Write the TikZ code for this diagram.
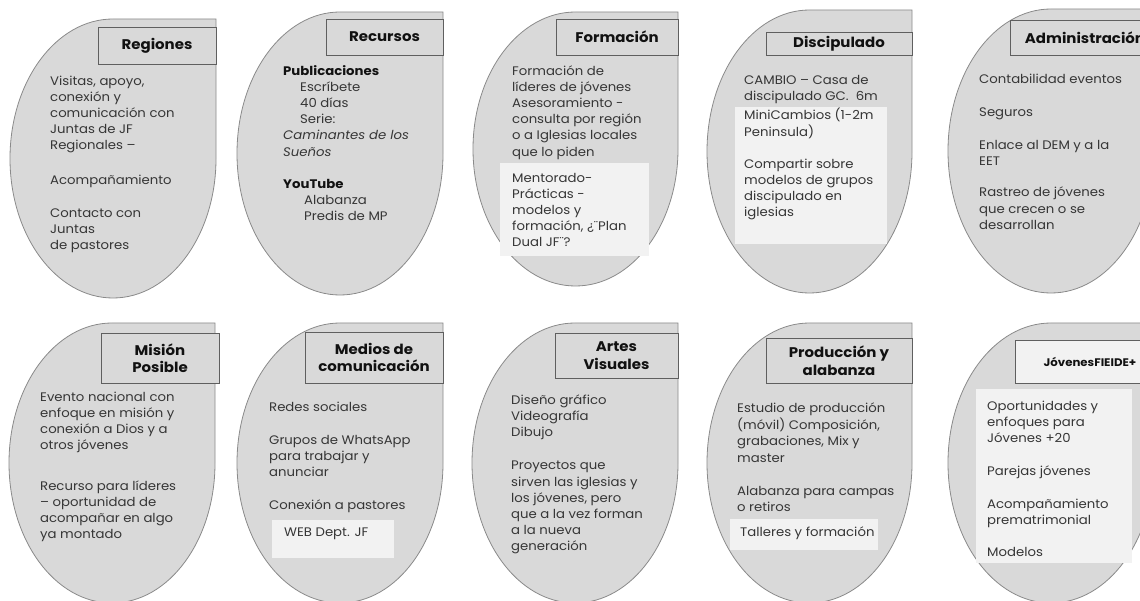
\documentclass[tikz,border=0pt]{standalone}
\usepackage{fontspec}
\setmainfont{Poppins}[FakeStretch=1.07]
\definecolor{blobfill}{HTML}{D9D9D9}
\definecolor{blobline}{HTML}{8A8A8A}
\definecolor{hdrline}{HTML}{5F5F5F}
\definecolor{boxfill}{HTML}{F2F2F2}
\definecolor{txtc}{HTML}{363636}
\definecolor{ttlc}{HTML}{111111}
\tikzset{
  blob/.style={fill=blobfill, draw=blobline, line width=0.8pt},
  hdrbox/.style={draw=hdrline, fill=blobfill, line width=0.9pt, inner sep=0pt,
    align=center, text=ttlc, font=\fontsize{14}{17.5}\selectfont\bfseries},
  lightbox/.style={fill=boxfill},
  btxt/.style={anchor=north west, inner sep=0pt, align=left, text=txtc,
    font=\fontsize{12.4}{16.2}\selectfont}
}
\newcommand\blob[4]{\path[blob] ({(#1+#3)/2},#2) -- (#3,#2) -- (#3,{(#2+#4)/2})
  arc[start angle=0,end angle=270,x radius={(#3-#1)/2},y radius={(#4-#2)/2}] -- cycle;}
\newcommand\hdr[7][]{\node[hdrbox,#1, minimum width={#4-#2}, minimum height={#5-#3}]
  (#6) at ({(#2+#4)/2},{(#3+#5)/2}) {#7};}
\newcommand\btext[4]{\node[btxt] (#1) at (#2,{#3-11.34}) {\strut #4};}
\newcommand\lbox[4]{\path[lightbox] (#1,#2) rectangle (#3,#4);}
\begin{document}
\begin{tikzpicture}[x=1pt,y=-1pt]
\useasboundingbox (0,0) rectangle (1140,601);
\fill[white] (0,0) rectangle (1140,601);
\clip (0,0) rectangle (1140,601);
% ---------- row 1 ----------
\blob{10}{19}{216}{298}
\hdr{98}{27}{216}{64}{h1}{Regiones}
\btext{t1}{50}{85}{Visitas, apoyo,\\ conexión y\\ comunicación con\\ Juntas de JF\\ Regionales –\\[18pt]
  Acompañamiento\\[17pt] Contacto con\\ Juntas\\ de pastores}

\blob{237}{12}{443}{295}
\hdr{326}{19}{443}{55}{h2}{Recursos}
\btext{t2}{283}{75}{\textbf{\color{ttlc}Publicaciones}\\ \hspace*{17pt}Escríbete\\ \hspace*{17pt}40 días\\
  \hspace*{17pt}Serie:\\ \textit{Caminantes de los}\\ \textit{Sueños}\\[16pt]
  \textbf{\color{ttlc}YouTube}\\ \hspace*{21pt}Alabanza\\ \hspace*{21pt}Predis de MP}

\blob{473}{12}{678}{286}
\hdr{556}{19}{678}{55}{h3}{Formación}
\btext{t3}{512}{75}{Formación de\\ líderes de jóvenes\\ Asesoramiento -\\ consulta por región\\ o a Iglesias locales\\ que lo piden}
\lbox{500}{163}{649}{256}
\btext{t3b}{512}{182}{Mentorado-\\ Prácticas -\\ modelos y\\ formación, ¿¨Plan\\ Dual JF¨?}

\blob{707}{10}{912}{293}
\hdr{766}{32}{912}{55}{h4}{Discipulado}
\btext{t4}{744}{84}{CAMBIO – Casa de\\ discipulado GC.\ \ 6m}
\lbox{735}{107}{887}{244}
\btext{t4b}{744}{119}{MiniCambios (1-2m\\ Peninsula)\\[15pt] Compartir sobre\\ modelos de grupos\\ discipulado en\\ iglesias}

\blob{948}{9}{1154}{293}
\hdr{1010}{20}{1160}{55}{h5}{Administración}
\btext{t5}{979}{83}{Contabilidad eventos\\[17pt] Seguros\\[17pt] Enlace al DEM y a la\\ EET\\[15pt]
  Rastreo de jóvenes\\ que crecen o se\\ desarrollan}
% ---------- row 2 ----------
\blob{9}{323}{215}{603}
\hdr[xshift=4pt]{97}{333}{215}{383}{h6}{Misión\\ Posible}
\btext{t6}{40}{401}{Evento nacional con\\ enfoque en misión y\\ conexión a Dios y a\\ otros jóvenes\\[24pt]
  Recurso para líderes\\ – oportunidad de\\ acompañar en algo\\ ya montado}

\blob{237}{323}{443}{603}
\hdr{305}{332}{443}{383}{h7}{Medios de\\ comunicación}
\btext{t7}{269}{411}{Redes sociales\\[17pt] Grupos de WhatsApp\\ para trabajar y\\ anunciar\\[16pt] Conexión a pastores}
\lbox{272}{520}{394}{558}
\btext{t7b}{284}{536}{WEB Dept. JF}

\blob{472}{323}{678}{603}
\hdr{555}{333}{678}{378}{h8}{Artes\\ Visuales}
\btext{t8}{511}{404}{Diseño gráfico\\ Videografía\\ Dibujo\\[17pt] Proyectos que\\ sirven las iglesias y\\
  los jóvenes, pero\\ que a la vez forman\\ a la nueva\\ generación}

\blob{707}{323}{912}{603}
\hdr{766}{338}{912}{383}{h9}{Producción y\\ alabanza}
\btext{t9}{737}{412}{Estudio de producción\\ (móvil) Composición,\\ grabaciones, Mix y\\ master\\[17pt] Alabanza para campas\\ o retiros}
\lbox{730}{519}{878}{550}
\btext{t9b}{740}{536}{Talleres y formación}

\blob{948}{323}{1154}{603}
\hdr[fill=boxfill, font=\fontsize{11}{14}\selectfont\bfseries, xshift=5pt]{1010}{340}{1160}{383}{h10}{JóvenesFIEIDE+}
\lbox{976}{389}{1132}{563}
\btext{t10}{987}{410}{Oportunidades y\\ enfoques para\\ Jóvenes +20\\[17pt] Parejas jóvenes\\[16pt]
  Acompañamiento\\ prematrimonial\\[16pt] Modelos}
\end{tikzpicture}
\end{document}
